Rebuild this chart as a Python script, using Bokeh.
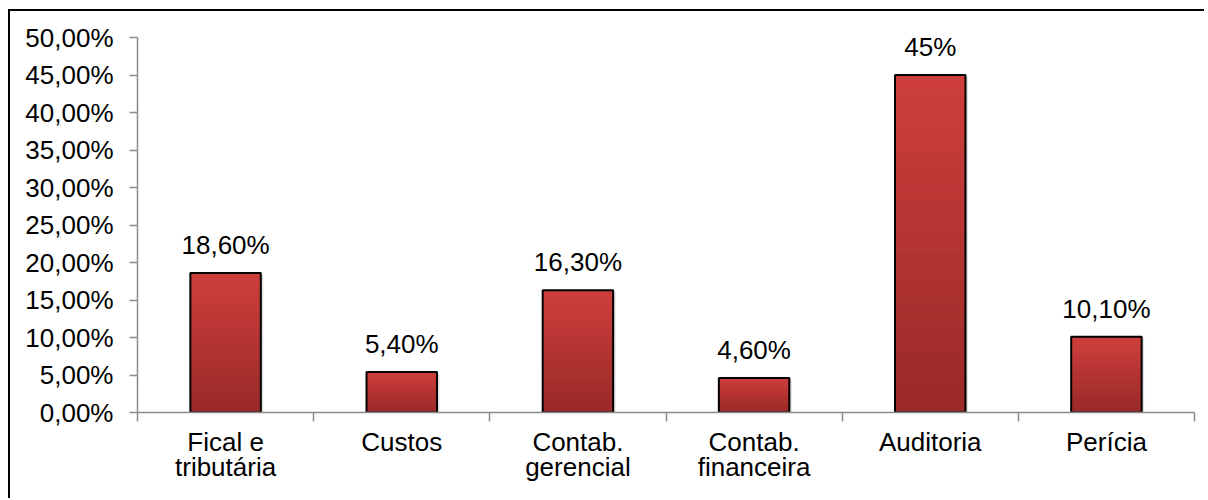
from bokeh.plotting import figure
from bokeh.models import Range1d, FixedTicker
from bokeh.core.properties import value
from bokeh.embed import file_html
from bokeh.resources import INLINE

categories = ["Fical e\ntributária", "Custos", "Contab.\ngerencial", "Contab.\nfinanceira", "Auditoria", "Perícia"]
values = [18.6, 5.4, 16.3, 4.6, 45.0, 10.1]
value_labels = ["18,60%", "5,40%", "16,30%", "4,60%", "45%", "10,10%"]
yticks = [0, 5, 10, 15, 20, 25, 30, 35, 40, 45, 50]
ytick_labels = ["0,00%", "5,00%", "10,00%", "15,00%", "20,00%", "25,00%",
                "30,00%", "35,00%", "40,00%", "45,00%", "50,00%"]

FONT = "Liberation Sans"
TOP = (0xCF, 0x3F, 0x3C)
BOT = (0x99, 0x2A, 0x28)

p = figure(width=1196, height=489, output_backend="svg", toolbar_location=None,
           x_range=Range1d(0, len(categories)), y_range=Range1d(0, 50),
           min_border_left=127, min_border_right=12, min_border_top=26, min_border_bottom=88)
p.styles = {"border-left": "2px solid #000", "border-top": "2px solid #000",
            "box-sizing": "border-box", "margin-left": "8px", "margin-top": "9px"}
p.outline_line_color = None
p.grid.grid_line_color = None
p.background_fill_color = "white"
p.border_fill_color = "white"

xs = [i + 0.5 for i in range(len(categories))]

# soft shadow to the right of each bar
p.vbar(x=[x + 0.014 for x in xs], top=[v - 0.25 for v in values], bottom=0, width=0.4,
       fill_color="#000000", fill_alpha=0.12, line_color=None)

# gradient-filled bars built from overlapping horizontal slices
N = 40
sx, sb, st, sc = [], [], [], []
for x, v in zip(xs, values):
    for k in range(N):
        t = (k + 0.5) / N  # 0 bottom -> 1 top
        r = int(BOT[0] + (TOP[0] - BOT[0]) * t)
        g = int(BOT[1] + (TOP[1] - BOT[1]) * t)
        b = int(BOT[2] + (TOP[2] - BOT[2]) * t)
        sx.append(x)
        sb.append(v * k / N)
        st.append(v)
        sc.append("#%02x%02x%02x" % (r, g, b))
p.vbar(x=sx, bottom=sb, top=st, width=0.4, fill_color=sc, line_color=None)
p.vbar(x=xs, top=values, bottom=0, width=0.4, fill_color=None, line_color="black", line_width=2)

p.text(x=xs, y=values, text=value_labels, text_align="center", text_baseline="alphabetic",
       y_offset=-28, text_font=value(FONT), text_font_size="26px", text_color="black")

# axes
xa = p.xaxis[0]
xa.ticker = FixedTicker(ticks=xs, minor_ticks=list(range(len(categories) + 1)))
xa.major_label_overrides = {x: c for x, c in zip(xs, categories)}
xa.major_tick_out = 0
xa.major_tick_in = 0
xa.minor_tick_out = 9
xa.minor_tick_in = 0
xa.minor_tick_line_color = "#8c8c8c"
xa.minor_tick_line_width = 1.5
xa.axis_line_color = "#8c8c8c"
xa.axis_line_width = 1.5
xa.major_label_standoff = 5
xa.major_label_text_font = FONT
xa.major_label_text_font_size = "26px"
xa.major_label_text_color = "black"
xa.major_label_text_line_height = 0.85

ya = p.yaxis[0]
ya.ticker = FixedTicker(ticks=yticks, minor_ticks=[])
ya.major_label_overrides = {t: l for t, l in zip(yticks, ytick_labels)}
ya.major_tick_out = 8
ya.major_tick_in = 0
ya.major_tick_line_color = "#8c8c8c"
ya.major_tick_line_width = 1.5
ya.axis_line_color = "#8c8c8c"
ya.axis_line_width = 1.5
ya.major_label_standoff = 16
ya.major_label_text_font = FONT
ya.major_label_text_font_size = "26px"
ya.major_label_text_color = "black"

open("out.html", "w").write(file_html(p, INLINE))
